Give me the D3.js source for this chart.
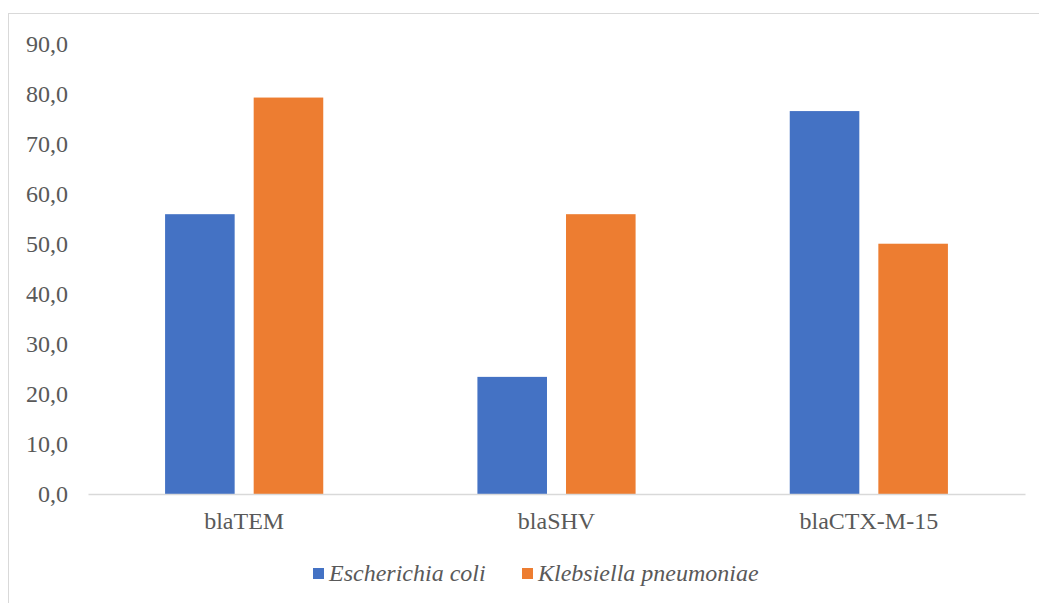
<!DOCTYPE html>
<html>
<head>
<meta charset="utf-8">
<script src="https://cdn.jsdelivr.net/npm/d3@7"></script>
<style>
  html, body { margin: 0; padding: 0; background: #ffffff; }
  svg { display: block; }
</style>
</head>
<body>
<svg id="chart" width="1039" height="603"></svg>
<script>
// Gene categories and per-species prevalence (%)
const categories = ["blaTEM", "blaSHV", "blaCTX-M-15"];
const seriesNames = ["Escherichia coli", "Klebsiella pneumoniae"];
const ecoliValues = [55.9, 23.4, 76.5];
const klebsiellaValues = [79.2, 55.9, 50.0];
const yTicks = [0, 10, 20, 30, 40, 50, 60, 70, 80, 90];
const colors = ["#4472C4", "#ED7D31"];

const seriesValues = [ecoliValues, klebsiellaValues];
const serif = "Liberation Serif";
const textColor = "#595959";
const fontSize = 24;

const svg = d3.select("#chart");

// Outer chart-area frame
svg.append("rect")
  .attr("x", 8.5).attr("y", 13.5)
  .attr("width", 1040).attr("height", 600)
  .attr("fill", "#ffffff")
  .attr("stroke", "#d9d9d9")
  .attr("stroke-width", 1);

const plot = { left: 88, right: 1025, top: 43.5, bottom: 494 };

const y = d3.scaleLinear().domain([0, 90]).range([plot.bottom, plot.top]);

const x0 = d3.scaleBand().domain(categories).range([plot.left, plot.right]);
const x1 = d3.scaleBand().domain(seriesNames)
  .range([0, x0.bandwidth()])
  .paddingInner(0.2147)
  .paddingOuter(0.87);

// Y axis labels (no axis line)
const yAxis = d3.axisLeft(y)
  .tickValues(yTicks)
  .tickSize(0)
  .tickPadding(0)
  .tickFormat(d => d3.format(".1f")(d).replace(".", ","));

const yg = svg.append("g")
  .attr("transform", `translate(68,0)`)
  .call(yAxis)
  .attr("font-family", serif)
  .attr("font-size", fontSize);
yg.select(".domain").remove();
yg.selectAll("text").attr("fill", textColor);

// Bars
const groups = svg.append("g").selectAll("g")
  .data(categories)
  .join("g")
  .attr("transform", d => `translate(${x0(d)},0)`);

groups.selectAll("rect")
  .data((d, i) => seriesNames.map((s, j) => ({ series: s, value: seriesValues[j][i], j })))
  .join("rect")
  .attr("x", d => x1(d.series))
  .attr("width", x1.bandwidth())
  .attr("y", d => y(d.value))
  .attr("height", d => y(0) - y(d.value))
  .attr("fill", d => colors[d.j]);

// Category axis
const xAxis = d3.axisBottom(x0).tickSize(0).tickPadding(18);
const xg = svg.append("g")
  .attr("transform", `translate(0,${plot.bottom})`)
  .call(xAxis)
  .attr("font-family", serif)
  .attr("font-size", fontSize);
xg.select(".domain")
  .attr("stroke", "#d9d9d9")
  .attr("stroke-width", 1.5);
xg.selectAll("text").attr("fill", textColor);

// Legend
const legendItems = [
  { name: seriesNames[0], color: colors[0], x: 313 },
  { name: seriesNames[1], color: colors[1], x: 522 }
];
const legend = svg.append("g");
legendItems.forEach(item => {
  legend.append("rect")
    .attr("x", item.x).attr("y", 568)
    .attr("width", 11).attr("height", 11)
    .attr("fill", item.color);
  legend.append("text")
    .attr("x", item.x + 16).attr("y", 581)
    .attr("font-family", serif)
    .attr("font-size", fontSize)
    .attr("font-style", "italic")
    .attr("fill", textColor)
    .text(item.name);
});
</script>
</body>
</html>
